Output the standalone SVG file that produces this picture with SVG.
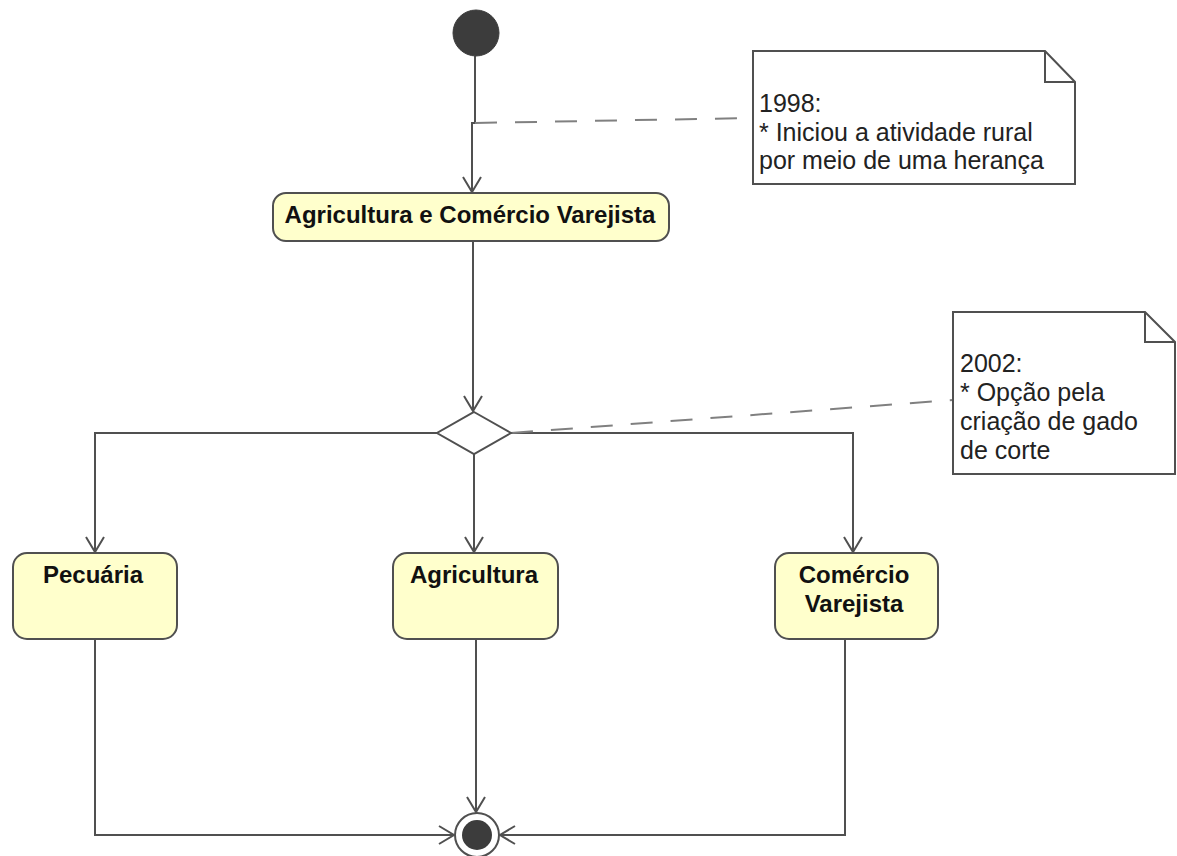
<svg xmlns="http://www.w3.org/2000/svg" width="1177" height="856" viewBox="0 0 1177 856">
  <style>
    .bg { fill: #ffffff; }
    .action { fill: #ffffcc; stroke: #505050; stroke-width: 2; }
    .label { font-family: "Liberation Sans", Arial, sans-serif; font-size: 24px; font-weight: bold; fill: #111111; text-anchor: middle; }
    .note { fill: #ffffff; stroke: #505050; stroke-width: 2; }
    .note-text { font-family: "Liberation Sans", Arial, sans-serif; font-size: 25px; fill: #222222; }
    .flow { fill: none; stroke: #505050; stroke-width: 2; marker-end: url(#open-arrow); }
    .anchor { fill: none; stroke: #808080; stroke-width: 2; stroke-dasharray: 22 18; }
    .fold { fill: none; stroke: #505050; stroke-width: 2; }
  </style>
  <defs>
    <marker id="open-arrow" markerUnits="userSpaceOnUse" markerWidth="20" markerHeight="22" viewBox="-16 -11 18 22" refX="0" refY="0" orient="auto">
      <path d="M-15,-9 L0,0 L-15,9" fill="none" stroke="#505050" stroke-width="2"/>
    </marker>
  </defs>

  <rect class="bg" x="0" y="0" width="1177" height="856"/>

  <!-- control flows and note anchors -->
  <g id="connectors">
    <path class="flow" d="M475,56 V123 H472 V192"/>
    <path class="flow" d="M473,241 V411"/>
    <path class="flow" d="M437,433 H95 V552"/>
    <path class="flow" d="M474,453 V552"/>
    <path class="flow" d="M511,433 H853 V552"/>
    <path class="flow" d="M95,639 V835 H454"/>
    <path class="flow" d="M476,639 V812"/>
    <path class="flow" d="M845,639 V835 H500"/>
    <path class="anchor" d="M475,123 L753,118"/>
    <path class="anchor" d="M511,433 L953,400"/>
  </g>

  <!-- initial node -->
  <g id="start">
    <circle cx="476" cy="33" r="23" fill="#3c3c3c" stroke="#3c3c3c" stroke-width="1"/>
  </g>

  <!-- note: 1998 -->
  <g id="note-1998">
    <path class="note" d="M753,51 H1045 L1075,82 V184 H753 Z"/>
    <path class="fold" d="M1045,51 V82 H1075"/>
    <text class="note-text" x="759" y="112">1998:</text>
    <text class="note-text" x="759" y="141">* Iniciou a atividade rural</text>
    <text class="note-text" x="759" y="169">por meio de uma herança</text>
  </g>

  <!-- action: Agricultura e Comércio Varejista -->
  <g id="agricultura-comercio">
    <rect class="action" x="273" y="193" width="396" height="48" rx="13" ry="13"/>
    <text class="label" x="470" y="223">Agricultura e Comércio Varejista</text>
  </g>

  <!-- decision node -->
  <g id="decision">
    <path d="M474,412 L511,433 L474,454 L437,433 Z" fill="#ffffff" stroke="#505050" stroke-width="2"/>
  </g>

  <!-- note: 2002 -->
  <g id="note-2002">
    <path class="note" d="M953,312 H1145 L1175,342 V474 H953 Z"/>
    <path class="fold" d="M1145,312 V342 H1175"/>
    <text class="note-text" x="960" y="372">2002:</text>
    <text class="note-text" x="960" y="401">* Opção pela</text>
    <text class="note-text" x="960" y="430">criação de gado</text>
    <text class="note-text" x="960" y="459">de corte</text>
  </g>

  <!-- action: Pecuária -->
  <g id="pecuaria">
    <rect class="action" x="13" y="553" width="164" height="86" rx="14" ry="14"/>
    <text class="label" x="93" y="583">Pecuária</text>
  </g>

  <!-- action: Agricultura -->
  <g id="agricultura">
    <rect class="action" x="393" y="553" width="165" height="86" rx="14" ry="14"/>
    <text class="label" x="474" y="583">Agricultura</text>
  </g>

  <!-- action: Comércio Varejista -->
  <g id="comercio-varejista">
    <rect class="action" x="775" y="553" width="163" height="86" rx="14" ry="14"/>
    <text class="label" x="854" y="583">Comércio</text>
    <text class="label" x="854" y="612">Varejista</text>
  </g>

  <!-- final node -->
  <g id="end">
    <circle cx="477" cy="835" r="22" fill="#ffffff" stroke="#505050" stroke-width="2"/>
    <circle cx="477" cy="835" r="15" fill="#3c3c3c"/>
  </g>
</svg>
